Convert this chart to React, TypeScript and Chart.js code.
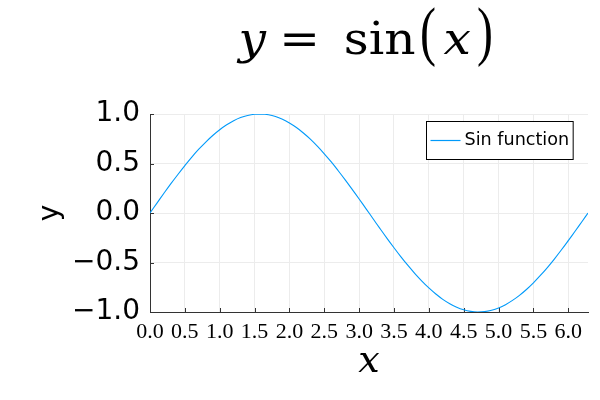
import React, { useEffect, useRef } from "react";
import { Chart, registerables } from "chart.js";

Chart.register(...registerables);

// Data
const xValues = [
  0.0, 0.1, 0.2, 0.3, 0.4, 0.5, 0.6, 0.7, 0.8, 0.9, 1.0, 1.1, 1.2, 1.3, 1.4, 1.5, 1.6, 1.7, 1.8, 1.9,
  2.0, 2.1, 2.2, 2.3, 2.4, 2.5, 2.6, 2.7, 2.8, 2.9, 3.0, 3.1, 3.2, 3.3, 3.4, 3.5, 3.6, 3.7, 3.8, 3.9,
  4.0, 4.1, 4.2, 4.3, 4.4, 4.5, 4.6, 4.7, 4.8, 4.9, 5.0, 5.1, 5.2, 5.3, 5.4, 5.5, 5.6, 5.7, 5.8, 5.9,
  6.0, 6.1, 6.2, 6.283,
];
const yValues = [
  0.0, 0.1, 0.199, 0.296, 0.389, 0.479, 0.565, 0.644, 0.717, 0.783, 0.841, 0.891, 0.932, 0.964, 0.985, 0.997, 1.0, 0.992, 0.974, 0.946,
  0.909, 0.863, 0.808, 0.746, 0.675, 0.598, 0.516, 0.427, 0.335, 0.239, 0.141, 0.042, -0.058, -0.158, -0.256, -0.351, -0.443, -0.53, -0.612, -0.688,
  -0.757, -0.818, -0.872, -0.916, -0.952, -0.978, -0.994, -1.0, -0.996, -0.982, -0.959, -0.926, -0.883, -0.832, -0.773, -0.706, -0.631, -0.551, -0.465, -0.374,
  -0.279, -0.182, -0.083, 0.0,
];
const xTickValues = [0, 0.5, 1, 1.5, 2, 2.5, 3, 3.5, 4, 4.5, 5, 5.5, 6];
const yTickValues = [-1, -0.5, 0, 0.5, 1];
const seriesLabel = "Sin function";
const xRange = [0, 6.283];
const yRange = [-1, 1];
const titleParts = [
  { text: "y", italic: true, paren: false },
  { text: "=", italic: false, paren: false },
  { text: "sin", italic: false, paren: false },
  { text: "(", italic: false, paren: true },
  { text: "x", italic: true, paren: false },
  { text: ")", italic: false, paren: true },
];
const xAxisTitle = "x";
const yAxisTitle = "y";

const LINE_COLOR = "#009AFA";
const AXIS_COLOR = "#333333";
const GRID_COLOR = "#ececec";
const SERIF = '"DejaVu Serif", "Liberation Serif", serif';
const THIN_SERIF = '"Liberation Serif", serif';

const fmt = (v: number) => (v < 0 ? "\u2212" + Math.abs(v).toFixed(1) : v.toFixed(1));

const decorPlugin = {
  id: "decor",
  beforeDatasetsDraw(chart: any) {
    const { ctx, chartArea, scales } = chart;
    const xs = scales.x;
    const ys = scales.y;
    ctx.save();
    ctx.strokeStyle = AXIS_COLOR;
    ctx.lineWidth = 1;
    ctx.beginPath();
    xs.ticks.forEach((t: any) => {
      const px = Math.round(xs.getPixelForValue(t.value)) + 0.5;
      ctx.moveTo(px, chartArea.bottom);
      ctx.lineTo(px, chartArea.bottom - 4);
    });
    ys.ticks.forEach((t: any) => {
      const py = Math.round(ys.getPixelForValue(t.value)) + 0.5;
      ctx.moveTo(chartArea.left, py);
      ctx.lineTo(chartArea.left + 4, py);
    });
    ctx.stroke();
    ctx.restore();
  },
  afterDraw(chart: any) {
    const { ctx, chartArea } = chart;
    ctx.save();
    // Title with mixed fonts (math style)
    const textSize = 45;
    const textSx = 1.08;
    const baseline = 54;
    const parenTop = 7;
    const parenBottom = 68;
    const parenInkW = 13;
    ctx.font = `100px ${THIN_SERIF}`;
    const pm = ctx.measureText("(");
    const pInk = pm.actualBoundingBoxAscent + pm.actualBoundingBoxDescent;
    const parenSize = (100 * (parenBottom - parenTop)) / pInk;
    const parenBase = parenTop + (pm.actualBoundingBoxAscent * parenSize) / 100;
    const gaps = [0, 17, 31, 7, 9, 8];
    const items = titleParts.map((p) => {
      const size = p.paren ? parenSize : textSize;
      const fam = p.paren ? THIN_SERIF : SERIF;
      const font = `${p.italic ? "italic " : ""}${size}px ${fam}`;
      ctx.font = font;
      const m = ctx.measureText(p.text);
      const left = -m.actualBoundingBoxLeft;
      const right = m.actualBoundingBoxRight;
      const sx = p.paren ? parenInkW / (right - left) : textSx;
      return { p, font, left, right, sx, base: p.paren ? parenBase : baseline };
    });
    let total = 0;
    items.forEach((it, i) => {
      total += gaps[i] + (it.right - it.left) * it.sx;
    });
    let cx = (chartArea.left + chartArea.right) / 2 - 5 - total / 2;
    ctx.fillStyle = "#000";
    ctx.textBaseline = "alphabetic";
    ctx.textAlign = "left";
    items.forEach((it, i) => {
      cx += gaps[i];
      ctx.font = it.font;
      ctx.save();
      ctx.translate(cx, it.base);
      ctx.scale(it.sx, 1);
      ctx.fillText(it.p.text, -it.left, 0);
      ctx.restore();
      cx += (it.right - it.left) * it.sx;
    });

    // Legend box
    const ds = chart.data.datasets[0];
    ctx.font = '17.6px "DejaVu Sans", sans-serif';
    const tw = ctx.measureText(ds.label).width;
    const lineLen = 30;
    const boxW = 4 + lineLen + 4 + tw + 4;
    const boxH = 38;
    const bx = Math.round(chartArea.right - 15 - boxW) + 0.5;
    const by = Math.round(chartArea.top + 7) + 0.5;
    ctx.fillStyle = "#fff";
    ctx.fillRect(bx, by, boxW, boxH);
    ctx.strokeStyle = "#000";
    ctx.lineWidth = 1;
    ctx.strokeRect(bx, by, boxW, boxH);
    const my = by + boxH / 2;
    ctx.strokeStyle = ds.borderColor;
    ctx.lineWidth = 1.2;
    ctx.beginPath();
    ctx.moveTo(bx + 4, my);
    ctx.lineTo(bx + 4 + lineLen, my);
    ctx.stroke();
    ctx.fillStyle = "#000";
    ctx.textBaseline = "middle";
    ctx.fillText(ds.label, bx + 4 + lineLen + 4, my);
    ctx.restore();
  },
};

export default function App() {
  const canvasRef = useRef<HTMLCanvasElement | null>(null);

  useEffect(() => {
    if (!canvasRef.current) return;
    const points = xValues.map((x, i) => ({ x, y: yValues[i] }));
    const chart = new Chart(canvasRef.current, {
      type: "line",
      data: {
        datasets: [
          {
            label: seriesLabel,
            data: points,
            borderColor: LINE_COLOR,
            borderWidth: 1.1,
            pointRadius: 0,
            tension: 0.4,
            fill: false,
          },
        ],
      },
      options: {
        animation: false,
        responsive: false,
        devicePixelRatio: 1,
        layout: { padding: { top: 114, right: 12, left: 0, bottom: 0 } },
        plugins: {
          legend: { display: false },
          title: { display: false },
          tooltip: { enabled: false },
        },
        scales: {
          x: {
            type: "linear",
            min: xRange[0],
            max: xRange[1],
            afterBuildTicks: (scale: any) => {
              scale.ticks = xTickValues.map((v) => ({ value: v }));
            },
            afterFit: (scale: any) => {
              scale.height = 88;
            },
            grid: { color: GRID_COLOR, lineWidth: 1, drawTicks: false },
            border: { display: true, color: AXIS_COLOR, width: 1 },
            ticks: {
              color: "#000",
              padding: 7,
              maxRotation: 0,
              autoSkip: false,
              font: { family: '"Liberation Serif", serif', size: 22 },
              callback: (v: any) => fmt(Number(v)),
            },
            title: {
              display: true,
              text: xAxisTitle,
              color: "#000",
              font: { family: SERIF, size: 38, style: "italic" },
              padding: { top: 0, bottom: 15.5 },
            },
          },
          y: {
            type: "linear",
            min: yRange[0],
            max: yRange[1],
            afterBuildTicks: (scale: any) => {
              scale.ticks = yTickValues.map((v) => ({ value: v }));
            },
            afterFit: (scale: any) => {
              scale.width = 150;
            },
            grid: { color: GRID_COLOR, lineWidth: 1, drawTicks: false },
            border: { display: true, color: AXIS_COLOR, width: 1 },
            ticks: {
              color: "#000",
              padding: 10,
              autoSkip: false,
              font: { family: '"DejaVu Sans", sans-serif', size: 28 },
              callback: (v: any) => fmt(Number(v)),
            },
            title: {
              display: true,
              text: yAxisTitle,
              color: "#000",
              font: { family: '"DejaVu Sans", sans-serif', size: 28 },
              padding: { top: 34, bottom: 0 },
            },
          },
        },
      },
      plugins: [decorPlugin],
    } as any);
    return () => chart.destroy();
  }, []);

  return (
    <div style={{ position: "absolute", left: 0, top: 0, width: 600, height: 400, background: "#fff" }}>
      <canvas ref={canvasRef} width={600} height={400} style={{ width: 600, height: 400 }} />
    </div>
  );
}
